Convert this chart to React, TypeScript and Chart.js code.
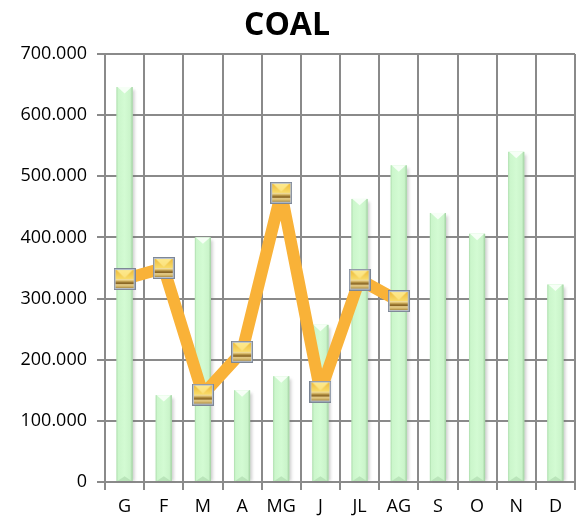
import { useEffect, useRef } from 'react';
import { Chart, registerables } from 'chart.js';

Chart.register(...registerables);

const categories = ['G', 'F', 'M', 'A', 'MG', 'J', 'JL', 'AG', 'S', 'O', 'N', 'D'];
const barValues = [646000, 142000, 400000, 150000, 173000, 257000, 463000, 518000, 440000, 406000, 540000, 323000];
const lineValues = [332000, 350000, 143000, 213000, 473000, 148000, 331000, 296000, null, null, null, null];
const yMin = 0;
const yMax = 700000;
const yStep = 100000;
const titleText = 'COAL';

const FONT = "'Open Sans', 'DejaVu Sans', sans-serif";

function formatThousands(v: number): string {
  const s = Math.round(v).toString();
  return s.replace(/\B(?=(\d{3})+(?!\d))/g, '.');
}

function makeMarker(): HTMLCanvasElement {
  const s = 22;
  const c = document.createElement('canvas');
  c.width = s;
  c.height = s;
  const g = c.getContext('2d') as CanvasRenderingContext2D;
  g.fillStyle = '#7d8796';
  g.fillRect(0, 0, s, s);
  g.fillStyle = '#b9c1cd';
  g.fillRect(1, 1, s - 2, s - 2);
  const ix = 2, iy = 2, iw = s - 4, ih = s - 4;
  const topH = Math.round(ih * 0.52);
  const tg = g.createLinearGradient(0, iy, 0, iy + topH);
  tg.addColorStop(0, '#eebc3c');
  tg.addColorStop(1, '#f9dc6a');
  g.fillStyle = tg;
  g.fillRect(ix, iy, iw, topH);
  const vg = g.createLinearGradient(0, iy, 0, iy + topH);
  vg.addColorStop(0, '#fde98c');
  vg.addColorStop(1, '#fbe07a');
  g.fillStyle = vg;
  g.beginPath();
  g.moveTo(ix + 1, iy);
  g.lineTo(ix + iw - 1, iy);
  g.lineTo(ix + iw / 2, iy + topH - 1);
  g.closePath();
  g.fill();
  const by = iy + topH;
  const bh = ih - topH;
  const bg = g.createLinearGradient(0, by, 0, by + bh);
  bg.addColorStop(0, '#f6e8b0');
  bg.addColorStop(0.2, '#dcbc68');
  bg.addColorStop(0.35, '#a07e36');
  bg.addColorStop(0.5, '#8a6726');
  bg.addColorStop(0.62, '#e6ce8c');
  bg.addColorStop(0.8, '#d8bc70');
  bg.addColorStop(1, '#a98a44');
  g.fillStyle = bg;
  g.fillRect(ix, by, iw, bh);
  return c;
}

const barFx = {
  id: 'barFx',
  beforeDatasetDraw(chart: any, args: any) {
    if (args.index !== 1) return;
    const ctx = chart.ctx as CanvasRenderingContext2D;
    ctx.save();
    ctx.fillStyle = 'rgba(110,110,110,0.32)';
    ctx.filter = 'blur(1.5px)';
    args.meta.data.forEach((el: any) => {
      const p = el.getProps(['x', 'y', 'base', 'width'], true);
      ctx.fillRect(p.x - p.width / 2 + 2, p.y + 3, p.width, p.base - p.y - 3);
    });
    ctx.restore();
  },
  afterDatasetDraw(chart: any, args: any) {
    if (args.index !== 1) return;
    const ctx = chart.ctx as CanvasRenderingContext2D;
    ctx.save();
    args.meta.data.forEach((el: any) => {
      const p = el.getProps(['x', 'y', 'base', 'width'], true);
      const l = p.x - p.width / 2;
      const r = p.x + p.width / 2;
      const h = p.base - p.y;
      const gr = ctx.createLinearGradient(l, 0, r, 0);
      gr.addColorStop(0, '#acdcac');
      gr.addColorStop(0.1, '#cbf6cb');
      gr.addColorStop(0.5, '#d3fbd3');
      gr.addColorStop(0.85, '#caf4ca');
      gr.addColorStop(1, '#a0cfa0');
      ctx.fillStyle = gr;
      ctx.fillRect(l, p.y, p.width, h);
      ctx.fillStyle = '#f6fff6';
      ctx.beginPath();
      ctx.moveTo(l + 1, p.y);
      ctx.lineTo(r - 1, p.y);
      ctx.lineTo(p.x, p.y + p.width * 0.4);
      ctx.closePath();
      ctx.fill();
      ctx.fillStyle = 'rgba(170,215,170,0.6)';
      ctx.beginPath();
      ctx.moveTo(l + 1, p.base);
      ctx.lineTo(r - 1, p.base);
      ctx.lineTo(p.x, p.base - p.width * 0.3);
      ctx.closePath();
      ctx.fill();
    });
    ctx.restore();
  },
};

const titlePlugin = {
  id: 'customTitle',
  afterDraw(chart: any) {
    const ctx = chart.ctx as CanvasRenderingContext2D;
    ctx.save();
    ctx.font = `bold 32px ${FONT}`;
    ctx.fillStyle = '#000';
    ctx.textAlign = 'center';
    ctx.textBaseline = 'alphabetic';
    ctx.fillText(titleText, 287, 35);
    ctx.restore();
  },
};

export default function App() {
  const ref = useRef<HTMLCanvasElement | null>(null);
  useEffect(() => {
    if (!ref.current) return;
    const marker = makeMarker();
    const chart = new Chart(ref.current, {
      type: 'bar',
      data: {
        labels: categories,
        datasets: [
          {
            type: 'line',
            data: lineValues as any,
            borderColor: '#f9b238',
            borderWidth: 12,
            borderJoinStyle: 'round',
            tension: 0,
            spanGaps: false,
            pointStyle: marker as any,
            pointRadius: 11,
            order: 0,
          } as any,
          {
            type: 'bar',
            data: barValues,
            backgroundColor: '#ccf6cc',
            borderWidth: 0,
            barPercentage: 0.41,
            categoryPercentage: 1,
            order: 1,
          },
        ],
      },
      options: {
        animation: false,
        responsive: false,
        devicePixelRatio: 1,
        layout: { autoPadding: false, padding: { top: 54, right: 2, left: 0, bottom: 0 } },
        plugins: {
          legend: { display: false },
          tooltip: { enabled: false },
          title: { display: false },
        },
        scales: {
          x: {
            offset: true,
            grid: { offset: true, color: '#8a8a8a', lineWidth: 2, tickLength: 8, drawTicks: true },
            border: { color: '#8a8a8a', width: 2 },
            ticks: { color: '#000', font: { family: FONT, size: 18 }, padding: 6, maxRotation: 0 },
            afterFit: (s: any) => { s.height = 38; },
          },
          y: {
            min: yMin,
            max: yMax,
            grid: { color: '#8a8a8a', lineWidth: 2, tickLength: 8 },
            border: { color: '#8a8a8a', width: 2 },
            ticks: {
              stepSize: yStep,
              color: '#000',
              font: { family: FONT, size: 18 },
              padding: 10,
              callback: (v: any) => formatThousands(Number(v)),
            },
            afterFit: (s: any) => { s.width = 105; },
          },
        },
      },
      plugins: [barFx, titlePlugin],
    });
    return () => chart.destroy();
  }, []);
  return (
    <div style={{ position: 'fixed', left: 0, top: 0, width: 577, height: 520, background: '#fff' }}>
      <canvas ref={ref} width={577} height={520} />
    </div>
  );
}
